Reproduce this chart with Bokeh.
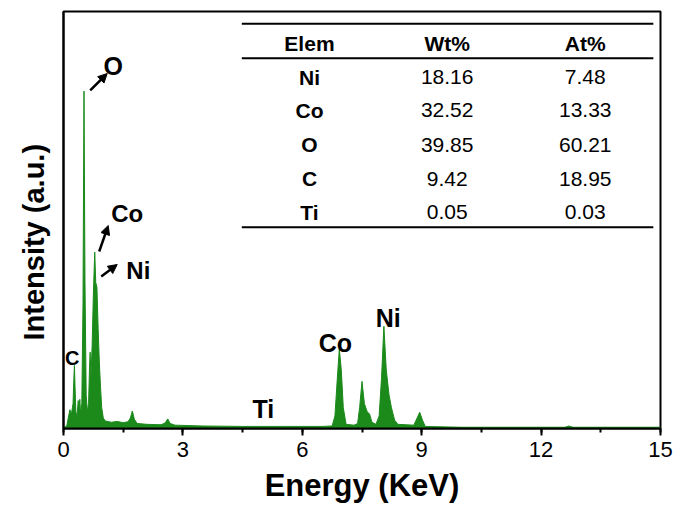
from bokeh.plotting import figure
from bokeh.models import (Range1d, SingleIntervalTicker, FixedTicker, Arrow, NormalHead,
                          ColumnDataSource, Title)
from bokeh.core.properties import value
from bokeh.embed import file_html
from bokeh.resources import INLINE

# ---- spectrum (energy keV, intensity a.u.) ----
energy = [0.00, 0.08, 0.12, 0.16, 0.20, 0.24, 0.26, 0.275, 0.29, 0.31, 0.34, 0.37, 0.39, 0.41,
          0.43, 0.46, 0.49, 0.515, 0.54, 0.57, 0.60, 0.63, 0.655, 0.67, 0.69, 0.72, 0.75,
          0.785, 0.81, 0.84, 0.87, 0.90, 0.93, 0.96, 1.00, 1.05, 1.20, 1.35, 1.50, 1.62,
          1.68, 1.73, 1.78, 1.85, 2.10, 2.45, 2.55, 2.62, 2.68, 2.80, 3.50, 4.50, 5.50,
          6.50, 6.75, 6.82, 6.88, 6.93, 6.98, 7.03, 7.10, 7.30, 7.39, 7.44, 7.50, 7.56,
          7.63, 7.69, 7.75, 7.85, 7.93, 7.99, 8.05, 8.11, 8.18, 8.24, 8.32, 8.40, 8.80,
          8.86, 8.95, 9.02, 9.09, 10.0, 11.0, 12.6, 12.7, 12.8, 15.0]
intensity = [0.3, 0.5, 2.5, 4.5, 3.5, 6.0, 12.0, 15.1, 10.0, 4.0, 3.0, 6.7, 5.0, 7.0,
             3.5, 6.0, 30.0, 80.9, 35.0, 8.0, 4.0, 6.0, 15.0, 18.3, 12.0, 20.0, 32.0,
             42.3, 35.0, 33.9, 24.0, 16.0, 10.0, 5.0, 2.5, 1.8, 1.5, 1.7, 1.4, 1.6,
             2.5, 4.2, 2.2, 1.2, 1.0, 0.9, 1.3, 2.3, 1.2, 0.8, 0.6, 0.5, 0.5,
             0.5, 0.6, 3.0, 12.0, 19.1, 14.0, 5.0, 1.0, 0.8, 1.2, 5.0, 11.3, 6.0,
             4.0, 3.5, 1.5, 1.0, 3.0, 12.0, 24.5, 14.0, 8.0, 5.0, 2.0, 1.0, 0.8,
             2.0, 3.9, 2.0, 0.5, 0.3, 0.3, 0.3, 0.6, 0.3, 0.3]

# ---- composition table ----
elems = ["Ni", "Co", "O", "C", "Ti"]
wt = ["18.16", "32.52", "39.85", "9.42", "0.05"]
at = ["7.48", "13.33", "60.21", "18.95", "0.03"]
headers = ["Elem", "Wt%", "At%"]

# ---- peak labels ----
peak_labels = ["O", "Co", "Ni", "C", "Co", "Ni", "Ti"]
peak_lx = [1.25, 1.60, 1.88, 0.22, 6.83, 8.16, 5.02]
peak_ly = [87.0, 51.6, 37.9, 16.8, 20.6, 26.4, 4.6]

GREEN = "#1b8a1b"
FONT = "Liberation Sans"

p = figure(width=678, height=510, output_backend="svg", toolbar_location=None,
           x_range=Range1d(0, 15), y_range=Range1d(0, 100),
           min_border_left=63, min_border_right=18, min_border_top=11, min_border_bottom=82)
p.background_fill_color = "white"
p.border_fill_color = "white"
p.grid.visible = False
p.outline_line_color = "black"
p.outline_line_width = 2

p.varea(x=energy, y1=0, y2=intensity, fill_color=GREEN)
p.line(x=energy, y=intensity, line_color=GREEN, line_width=1)

# axes
p.xaxis.ticker = SingleIntervalTicker(interval=3, num_minor_ticks=2)
p.xaxis.axis_line_width = 2
p.xaxis.major_tick_line_width = 2
p.xaxis.minor_tick_line_width = 2
p.xaxis.major_tick_in = 0
p.xaxis.major_tick_out = 7
p.xaxis.minor_tick_in = 0
p.xaxis.minor_tick_out = 4
p.xaxis.major_label_text_font = FONT
p.xaxis.major_label_text_font_size = "22px"
p.xaxis.major_label_text_color = "black"
p.xaxis.major_label_standoff = 6
p.xaxis.axis_label = "Energy (KeV)"
p.xaxis.axis_label_text_font = FONT
p.xaxis.axis_label_text_font_style = "bold"
p.xaxis.axis_label_text_font_size = "31px"
p.xaxis.axis_label_standoff = 8
p.xaxis.axis_label_text_color = "black"

p.yaxis.ticker = FixedTicker(ticks=[])
p.yaxis.axis_line_width = 2
p.yaxis.major_tick_line_color = None
p.yaxis.minor_tick_line_color = None

p.add_layout(Title(text="Intensity (a.u.)", align="left", offset=88, standoff=28,
                   text_font=FONT, text_font_style="bold", text_font_size="29px",
                   text_color="black"), "left")

# table (layout positions in data units)
col_x = [6.18, 9.64, 13.11]
row_y = [84.25, 76.26, 68.03, 59.88, 51.87]
p.segment(x0=[4.48, 4.48, 4.48], x1=[14.82, 14.82, 14.82], y0=[97.05, 88.8, 48.27],
          y1=[97.05, 88.8, 48.27], line_color="black", line_width=2)
p.text(x=col_x, y=[92.25] * 3, text=headers, text_font=value(FONT), text_font_style="bold",
       text_font_size="21px", text_align="center", text_baseline="middle", text_color="black")
p.text(x=[col_x[0]] * len(elems), y=row_y, text=elems, text_font=value(FONT),
       text_font_style="bold", text_font_size="21px", text_align="center",
       text_baseline="middle", text_color="black")
p.text(x=[col_x[1]] * len(wt), y=row_y, text=wt, text_font=value(FONT),
       text_font_size="21px", text_align="center", text_baseline="middle", text_color="black")
p.text(x=[col_x[2]] * len(at), y=row_y, text=at, text_font=value(FONT),
       text_font_size="21px", text_align="center", text_baseline="middle", text_color="black")

# peak labels
sizes = ["25px", "24px", "24px", "20px", "25px", "25px", "25px"]
src = ColumnDataSource(dict(x=peak_lx, y=peak_ly, t=peak_labels, s=sizes))
p.text(x="x", y="y", text="t", text_font_size="s", source=src, text_font=value(FONT),
       text_font_style="bold", text_align="center", text_baseline="middle", text_color="black")

# arrows
arrows = [((0.671, 81.06), (1.098, 85.13)),
          ((0.897, 42.45), (1.124, 48.68)),
          ((0.948, 36.45), (1.35, 39.33))]
for (x0, y0), (x1, y1) in arrows:
    p.add_layout(Arrow(end=NormalHead(size=9, fill_color="black", line_color="black"),
                       x_start=x0, y_start=y0, x_end=x1, y_end=y1,
                       line_color="black", line_width=2.5))

open("out.html", "w").write(file_html(p, INLINE))
